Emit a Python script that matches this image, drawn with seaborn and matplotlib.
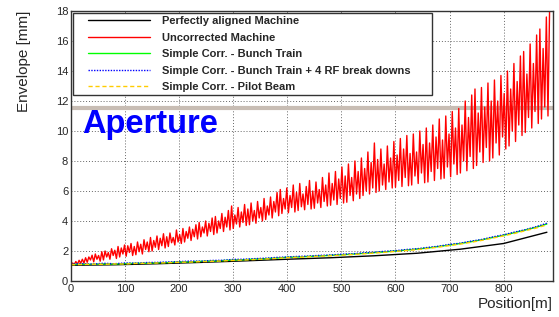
import numpy as np
import matplotlib
matplotlib.use("Agg")
import matplotlib.pyplot as plt
from matplotlib.ticker import MultipleLocator
from matplotlib.patches import Rectangle
import seaborn as sns

# beam envelope along the linac
red_pos = np.arange(0, 886, 3)
red_env = [
    1.05, 1.2, 1.1, 1.3, 1.12, 1.38, 1.18, 1.45, 1.2, 1.55,
    1.25, 1.6, 1.4, 1.72, 1.28, 1.8, 1.45, 1.7, 1.32, 1.95,
    1.4, 2.0, 1.6, 1.9, 1.45, 2.15, 1.7, 2.05, 1.5, 2.3,
    1.6, 2.2, 1.8, 2.4, 1.65, 2.35, 1.9, 2.5, 1.7, 2.3,
    1.75, 2.6, 1.95, 2.45, 1.8, 2.75, 2.1, 2.6, 1.95, 2.9,
    2.0, 2.7, 2.25, 3.0, 2.1, 2.85, 2.35, 3.15, 2.2, 2.95,
    2.3, 3.2, 2.55, 2.9, 2.4, 3.4, 2.6, 3.1, 2.5, 3.5,
    2.6, 3.3, 2.85, 3.6, 2.7, 3.45, 2.95, 3.75, 2.8, 3.9,
    2.95, 3.6, 3.2, 4.0, 3.0, 3.85, 3.3, 4.2, 3.1, 4.3,
    3.2, 4.0, 3.5, 4.5, 3.3, 4.25, 3.6, 4.7, 3.4, 5.0,
    3.5, 4.4, 3.8, 4.9, 3.6, 4.6, 3.9, 5.1, 3.7, 4.8,
    3.75, 5.2, 4.0, 4.7, 3.85, 5.3, 4.2, 4.9, 4.0, 5.5,
    4.1, 5.0, 4.4, 5.6, 4.2, 5.3, 4.6, 5.9, 4.35, 6.1,
    4.5, 5.5, 4.8, 6.2, 4.55, 5.7, 4.9, 6.4, 4.6, 5.9,
    4.7, 6.5, 4.95, 5.8, 4.75, 6.3, 5.1, 6.7, 4.8, 6.0,
    4.85, 6.6, 5.2, 6.1, 4.9, 6.9, 5.3, 6.4, 5.0, 7.2,
    5.05, 6.5, 5.4, 7.3, 5.1, 6.8, 5.5, 7.6, 5.2, 7.0,
    5.25, 7.8, 5.7, 6.9, 5.35, 8.0, 5.8, 7.3, 5.5, 8.2,
    5.7, 7.5, 6.0, 8.6, 5.8, 7.9, 6.2, 9.2, 5.9, 8.1,
    6.0, 8.8, 6.4, 7.8, 6.1, 9.0, 6.6, 8.2, 6.2, 9.3,
    6.25, 8.4, 6.7, 9.5, 6.3, 8.8, 6.9, 9.7, 6.35, 8.5,
    6.4, 9.8, 7.0, 8.6, 6.5, 10.0, 7.2, 9.1, 6.55, 10.2,
    6.6, 9.2, 7.3, 10.4, 6.7, 9.6, 7.5, 10.8, 6.8, 9.4,
    6.85, 11.0, 7.6, 9.8, 6.95, 11.3, 7.8, 10.2, 7.1, 11.5,
    7.2, 10.4, 8.0, 12.0, 7.35, 10.9, 8.3, 12.4, 7.5, 12.8,
    7.7, 11.2, 8.6, 12.9, 7.9, 11.6, 8.9, 13.2, 8.0, 12.0,
    8.2, 13.4, 9.2, 12.0, 8.4, 13.7, 9.6, 12.5, 8.8, 14.0,
    9.0, 12.8, 10.0, 14.5, 9.3, 13.3, 10.4, 15.0, 9.7, 15.3,
    9.9, 13.8, 10.9, 15.8, 10.2, 14.5, 11.3, 16.4, 10.5, 16.8,
    10.8, 15.5, 11.6, 17.6, 11.0, 18.2,
]

corr_pos = np.arange(0, 881, 20)
green_env = [1.10, 1.12, 1.11, 1.14, 1.13, 1.16, 1.18, 1.19, 1.22, 1.23,
             1.27, 1.28, 1.31, 1.33, 1.36, 1.40, 1.42, 1.46, 1.49, 1.53,
             1.58, 1.60, 1.64, 1.67, 1.71, 1.75, 1.79, 1.84, 1.89, 1.94,
             2.00, 2.06, 2.13, 2.20, 2.30, 2.40, 2.50, 2.62, 2.75, 2.90,
             3.05, 3.22, 3.40, 3.58, 3.80]
blue_env = [1.12, 1.16, 1.13, 1.18, 1.15, 1.20, 1.19, 1.23, 1.24, 1.27,
            1.29, 1.33, 1.32, 1.37, 1.38, 1.44, 1.45, 1.49, 1.52, 1.57,
            1.60, 1.64, 1.66, 1.71, 1.73, 1.79, 1.81, 1.88, 1.91, 1.98,
            2.02, 2.10, 2.15, 2.24, 2.32, 2.44, 2.52, 2.66, 2.77, 2.94,
            3.08, 3.26, 3.42, 3.62, 3.85]
yellow_env = [1.08, 1.10, 1.12, 1.11, 1.14, 1.13, 1.17, 1.18, 1.20, 1.22,
              1.25, 1.26, 1.29, 1.31, 1.34, 1.37, 1.40, 1.43, 1.47, 1.50,
              1.55, 1.58, 1.61, 1.65, 1.68, 1.72, 1.76, 1.81, 1.86, 1.91,
              1.97, 2.03, 2.09, 2.17, 2.26, 2.36, 2.46, 2.58, 2.71, 2.86,
              3.01, 3.17, 3.35, 3.53, 3.74]

black_pos = [0, 80, 160, 240, 320, 400, 480, 560, 640, 720, 800, 880]
black_env = [1.05, 1.08, 1.15, 1.24, 1.34, 1.45, 1.55, 1.68, 1.85, 2.12, 2.5, 3.25]

aperture = 11.5

sns.set_style("white")
plt.rcParams['font.family'] = ['Liberation Sans', 'DejaVu Sans']

fig = plt.figure(figsize=(5.59, 3.17), dpi=100)
ax = fig.add_axes([0.127, 0.1136, 0.862, 0.8517])

sns.lineplot(x=black_pos, y=black_env, ax=ax, color='black', lw=1,
             label='Perfectly aligned Machine', estimator=None, sort=False)
sns.lineplot(x=red_pos, y=red_env, ax=ax, color='red', lw=1.0,
             label='Uncorrected Machine', estimator=None, sort=False)
sns.lineplot(x=corr_pos, y=green_env, ax=ax, color='#00ff00', lw=1,
             label='Simple Corr. - Bunch Train', estimator=None, sort=False)
sns.lineplot(x=corr_pos, y=blue_env, ax=ax, color='blue', lw=1, ls=(0, (1, 1)),
             label='Simple Corr. - Bunch Train + 4 RF break downs', estimator=None, sort=False)
sns.lineplot(x=corr_pos, y=yellow_env, ax=ax, color='#ffcc00', lw=1, ls=(0, (3, 2)),
             label='Simple Corr. - Pilot Beam', estimator=None, sort=False)

ax.axhline(aperture, color='#c8bdb4', lw=3, zorder=1)
ax.text(20, 9.87, 'Aperture', color='blue', fontsize=23.5, fontweight='bold')

ax.set_xlim(0, 891)
ax.set_ylim(0, 18)
ax.xaxis.set_major_locator(MultipleLocator(100))
ax.xaxis.set_minor_locator(MultipleLocator(20))
ax.yaxis.set_major_locator(MultipleLocator(2))
ax.yaxis.set_minor_locator(MultipleLocator(0.5))
ax.tick_params(which='major', direction='in', length=7, width=1, labelsize=8,
               top=False, right=False, pad=2)
ax.tick_params(which='minor', direction='in', length=3.5, width=0.8,
               top=False, right=False)
ax.grid(True, which='major', ls=(0, (1, 2)), color='#666666', lw=0.7)
for s in ax.spines.values():
    s.set_color('#333333')
    s.set_linewidth(1)

ax.set_xlabel('Position[m]', loc='right', fontsize=11, labelpad=2)
ax.set_ylabel('Envelope [mm]', loc='top', fontsize=11, labelpad=18)

# legend box drawn separately so the entries can sit inside it like ROOT's TLegend
ax.add_patch(Rectangle((0.004, 0.689), 0.745, 0.304, transform=ax.transAxes,
                       facecolor='white', edgecolor='#333333', lw=1, zorder=5))
leg = ax.legend(loc='upper left', bbox_to_anchor=(0.035, 0.981),
                prop={'weight': 'bold', 'size': 8}, frameon=False,
                handlelength=5.6, handletextpad=1.1, labelspacing=0.59,
                borderaxespad=0, borderpad=0)
leg.set_zorder(6)

fig.savefig('out.png', dpi=100)
